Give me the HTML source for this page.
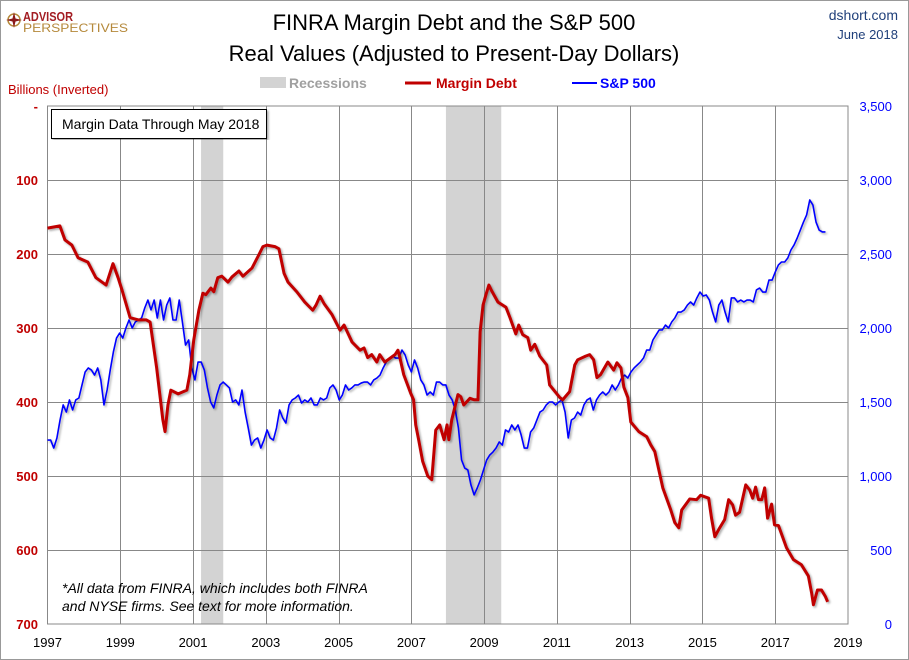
<!DOCTYPE html>
<html><head><meta charset="utf-8"><style>
body{margin:0;background:#fff;}
svg{display:block;font-family:"Liberation Sans",sans-serif;}
</style></head><body>
<svg id="chart" width="909" height="660" viewBox="0 0 909 660">
<defs><filter id="sh" x="-5%" y="-5%" width="110%" height="110%"><feDropShadow dx="1.5" dy="1.5" stdDeviation="1" flood-color="#000" flood-opacity="0.35"/></filter></defs>
<rect x="0.5" y="0.5" width="908" height="659" fill="#fff" stroke="#999"/>
<g id="rec"></g>
<g id="grid"></g>
<rect x="47.5" y="106" width="800.5" height="518" fill="none" stroke="#888"/>
<g id="ticks"></g>
<g id="series"></g>
<g>
<circle cx="14" cy="20" r="6" fill="none" stroke="#b5893b" stroke-width="1.5"/><path d="M14 12 L15.5 18.5 L22 20 L15.5 21.5 L14 28 L12.5 21.5 L6 20 L12.5 18.5Z" fill="#8b1a1a"/>
<text x="23" y="21" font-size="13" font-weight="bold" fill="#a31d23" textLength="50" lengthAdjust="spacingAndGlyphs">ADVISOR</text>
<text x="23" y="32" font-size="12" fill="#b5893b" textLength="105" lengthAdjust="spacingAndGlyphs">PERSPECTIVES</text>
</g>
<text x="454" y="30" text-anchor="middle" font-size="22" fill="#000">FINRA Margin Debt and the S&amp;P 500</text>
<text x="454" y="61" text-anchor="middle" font-size="22" fill="#000">Real Values (Adjusted to Present-Day Dollars)</text>
<text x="898" y="20" text-anchor="end" font-size="14" fill="#1f3f7a">dshort.com</text>
<text x="898" y="39" text-anchor="end" font-size="13" fill="#1f3f7a">June 2018</text>
<text x="8" y="94" font-size="13" fill="#c00000">Billions (Inverted)</text>
<g>
<g><rect x="260" y="77" width="26" height="11" fill="#d3d3d3"/><text x="289" y="88" font-size="14" fill="#a0a0a0" font-weight="bold">Recessions</text></g>
<g><line x1="405" y1="83" x2="431" y2="83" stroke="#c00000" stroke-width="3"/><text x="436" y="88" font-size="14" fill="#c00000" font-weight="bold">Margin Debt</text></g>
<g><line x1="572" y1="83" x2="597" y2="83" stroke="#0000ff" stroke-width="2"/><text x="600" y="88" font-size="14" fill="#0000ff" font-weight="bold">S&amp;P 500</text></g>
</g>
<g><rect x="51.5" y="109.5" width="215" height="29" fill="#fff" stroke="#000" filter="url(#sh)"/><text x="62" y="129" font-size="14" fill="#000">Margin Data Through May 2018</text></g>
<g font-size="14" font-style="italic" fill="#000">
<text x="62" y="593">*All data from FINRA, which includes both FINRA</text>
<text x="62" y="611">and NYSE firms. See text for more information.</text></g>
</svg>
<script>
const xTickYears=[1997,1999,2001,2003,2005,2007,2009,2011,2013,2015,2017,2019];
const leftTicks=[0,100,200,300,400,500,600,700];
const rightTicks=[0,500,1000,1500,2000,2500,3000,3500];
const recessionStarts=[2001.22,2007.95];
const recessionEnds=[2001.83,2009.47];
const marginYears=[1997.00,1997.34,1997.48,1997.67,1997.84,1998.11,1998.33,1998.61,1998.80,1998.94,1999.05,1999.27,1999.49,1999.71,1999.82,2000.0,2000.17,2000.23,2000.31,2000.39,2000.59,2000.83,2000.91,2001.02,2001.16,2001.27,2001.35,2001.49,2001.57,2001.68,2001.79,2001.96,2002.07,2002.26,2002.37,2002.62,2002.81,2002.92,2003.03,2003.25,2003.36,2003.5,2003.61,2003.85,2004.07,2004.29,2004.38,2004.49,2004.6,2004.82,2005.04,2005.15,2005.37,2005.59,2005.7,2005.8,2005.91,2006.05,2006.13,2006.27,2006.55,2006.63,2006.68,2006.79,2006.98,2007.06,2007.12,2007.2,2007.31,2007.45,2007.56,2007.67,2007.78,2007.9,2007.98,2008.03,2008.11,2008.28,2008.36,2008.44,2008.61,2008.72,2008.83,2008.89,2008.97,2009.05,2009.13,2009.21,2009.38,2009.6,2009.71,2009.87,2009.95,2010.06,2010.2,2010.28,2010.39,2010.53,2010.72,2010.8,2011.08,2011.16,2011.35,2011.49,2011.57,2011.79,2011.9,2012.01,2012.1,2012.2,2012.4,2012.56,2012.65,2012.76,2012.84,2012.95,2013.03,2013.25,2013.47,2013.58,2013.69,2013.91,2014.13,2014.24,2014.35,2014.43,2014.65,2014.84,2014.95,2015.17,2015.25,2015.34,2015.45,2015.61,2015.72,2015.83,2015.91,2016.02,2016.19,2016.3,2016.38,2016.46,2016.54,2016.63,2016.71,2016.79,2016.9,2016.98,2017.09,2017.31,2017.5,2017.72,2017.91,2018.0,2018.05,2018.16,2018.27,2018.38,2018.44];
const marginValues=[165,162,181,188,205,211,232,242,213,232,249,286,289,289,292,354,424,440,404,384,389,384,363,316,276,253,255,246,251,232,230,238,231,223,230,219,201,190,188,190,193,226,238,251,265,276,269,257,267,282,303,296,319,330,327,340,336,346,336,346,336,330,339,363,388,397,431,451,480,500,505,438,431,451,431,451,424,390,393,404,395,397,397,305,269,255,242,250,265,272,286,308,296,309,313,330,322,338,350,377,394,397,386,350,343,338,336,343,367,363,346,357,347,354,380,394,427,440,447,458,467,516,546,563,570,546,531,532,526,530,557,582,572,559,532,539,553,549,512,519,530,515,532,532,516,557,538,566,567,597,613,620,635,658,674,654,654,663,670];
const spStart=1997.0, spEnd=2018.38;
const spValues=[1243,1243,1189,1257,1378,1480,1432,1514,1446,1514,1527,1615,1703,1730,1716,1682,1730,1649,1480,1581,1716,1838,1932,1966,1932,2000,2054,2000,2041,2054,2068,2135,2189,2122,2189,2068,2189,2054,2155,2203,2054,2054,2189,2041,1885,1919,1730,1649,1770,1770,1716,1595,1500,1460,1547,1615,1635,1615,1595,1500,1514,1480,1581,1432,1324,1209,1243,1257,1189,1243,1311,1257,1243,1324,1446,1392,1358,1480,1514,1527,1547,1493,1514,1500,1527,1480,1480,1527,1514,1527,1595,1615,1581,1514,1547,1615,1581,1595,1615,1615,1628,1635,1635,1615,1649,1662,1682,1730,1770,1797,1811,1797,1797,1851,1818,1750,1703,1784,1730,1649,1615,1547,1568,1547,1635,1635,1615,1615,1547,1514,1446,1324,1108,1054,1041,939,872,919,973,1041,1108,1142,1162,1189,1230,1209,1311,1297,1345,1311,1345,1277,1189,1189,1297,1324,1378,1432,1446,1480,1500,1500,1480,1500,1514,1432,1257,1378,1392,1432,1412,1480,1514,1527,1446,1514,1547,1568,1547,1568,1615,1581,1615,1662,1682,1662,1703,1730,1750,1770,1797,1851,1851,1919,1953,1987,1987,2020,2000,2041,2068,2108,2108,2122,2155,2176,2155,2203,2243,2216,2223,2189,2108,2041,2155,2189,2108,2041,2203,2203,2176,2189,2176,2189,2189,2176,2257,2270,2243,2243,2324,2324,2378,2426,2446,2446,2473,2527,2561,2608,2662,2716,2764,2865,2831,2716,2662,2649,2649];

const NS='http://www.w3.org/2000/svg';
const X0=47.5,X1=848,Y0=106,Y1=624;
const xs=y=>X0+(y-1997)/(2019-1997)*(X1-X0);
const yL=v=>Y0+v/700*(Y1-Y0);
const yR=v=>Y1-v/3500*(Y1-Y0);
function mk(tag,attrs,parent){const e=document.createElementNS(NS,tag);for(const k in attrs)e.setAttribute(k,attrs[k]);parent.appendChild(e);return e;}
const rec=document.getElementById('rec'),grid=document.getElementById('grid'),ticks=document.getElementById('ticks'),series=document.getElementById('series');
recessionStarts.forEach((s,i)=>{const r=mk('rect',{x:xs(s),y:Y0,width:xs(recessionEnds[i])-xs(s),height:Y1-Y0,fill:'#d3d3d3'},rec);

});
xTickYears.forEach(yr=>{const x=Math.round(xs(yr))+0.5;
if(yr>1997&&yr<2019){const l=mk('line',{x1:x,y1:Y0,x2:x,y2:Y1,stroke:'#888','stroke-width':1},grid);

}
const t=mk('text',{x:xs(yr),y:Y1+23,'text-anchor':'middle','font-size':13,fill:'#000'},ticks);t.textContent=yr;

});
leftTicks.forEach(v=>{const y=Math.round(yL(v))+0.5;
if(v>0&&v<700){const l=mk('line',{x1:X0,y1:y,x2:X1,y2:y,stroke:'#888','stroke-width':1},grid);

}
const t=mk('text',{x:38,y:yL(v)+5,'text-anchor':'end','font-size':13,'font-weight':'bold',fill:'#c00000'},ticks);t.textContent=v===0?'-':v;

});
rightTicks.forEach(v=>{const t=mk('text',{x:892,y:yR(v)+5,'text-anchor':'end','font-size':13,fill:'#0000ff'},ticks);t.textContent=v.toLocaleString('en-US');

});
const spPts=spValues.map((v,i)=>[xs(spStart+i*(spEnd-spStart)/(spValues.length-1)),yR(v)]);
const bl=mk('polyline',{points:spPts.map(p=>p.join(',')).join(' '),fill:'none',stroke:'#0000ff','stroke-width':1.6,'stroke-linejoin':'round',filter:'url(#sh)'},series);


const mPts=marginValues.map((v,i)=>[xs(marginYears[i]),yL(v)]);
const rl=mk('polyline',{points:mPts.map(p=>p.join(',')).join(' '),fill:'none',stroke:'#c00000','stroke-width':3,'stroke-linejoin':'round',filter:'url(#sh)'},series);


</script>
</body></html>
